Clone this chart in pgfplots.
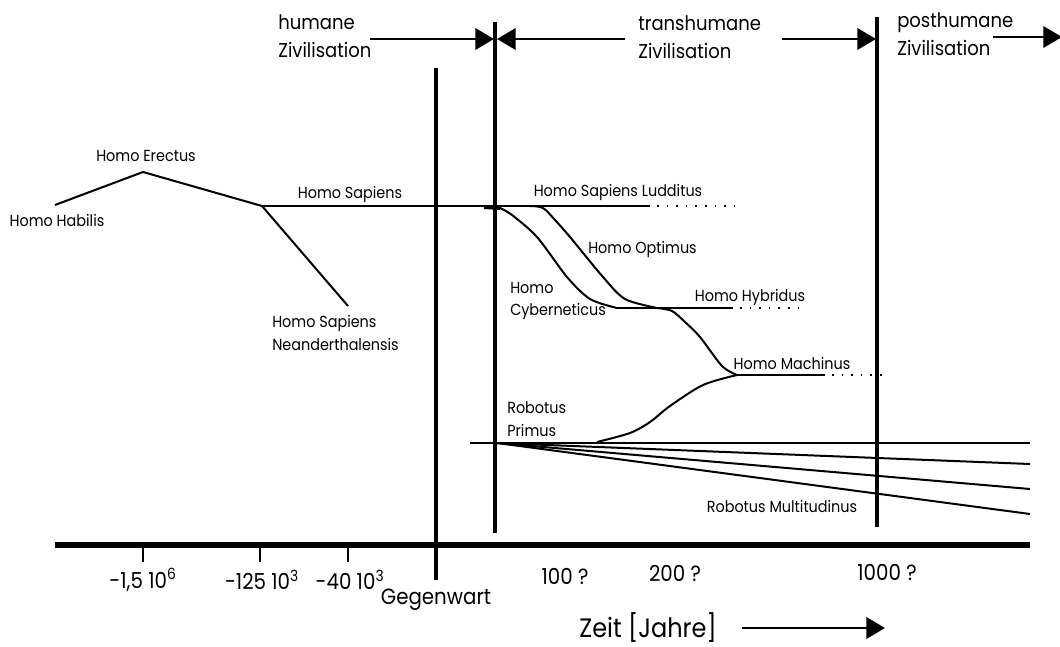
\documentclass[border=0pt]{standalone}
\usepackage{fontspec}
\setmainfont{Poppins}[FakeStretch=0.9]
\usepackage{pgfplots}
\pgfplotsset{compat=1.18}
\usetikzlibrary{arrows.meta}
\tikzset{
  lab/.style={font=\fontsize{12}{17}\selectfont, inner sep=0pt, align=left},
  big/.style={font=\fontsize{15}{21}\selectfont, inner sep=0pt, align=left},
  tk/.style={font=\fontsize{16.5}{18}\selectfont, inner sep=0pt},
  tip/.style={-{Triangle[length=14pt,width=16pt]}},
  dots/.style={dash pattern=on 1.2pt off 6pt},
}
\begin{document}
\begin{tikzpicture}
\begin{axis}[
  width=795pt, height=484.5pt, scale only axis,
  xmin=0, xmax=1060, ymin=0, ymax=646, y dir=reverse,
  hide axis, clip=false,
  cycle list={{black, solid}},
  every axis plot/.append style={no marks, black, line width=1.5pt},
]
% Zeitachse
\addplot[line width=3.8pt] coordinates {(55,545) (1030,545)};
\addplot coordinates {(143,547) (143,562)};
\addplot coordinates {(260,547) (260,562)};
\addplot coordinates {(348,547) (348,562)};
% senkrechte Trennlinien
\addplot[line width=3pt] coordinates {(436,68) (436,580)};
\addplot[line width=3pt] coordinates {(495,22) (495,533)};
\addplot[line width=3pt] coordinates {(877,17) (877,527)};
% Pfeile oben
\addplot[line width=2pt, tip] coordinates {(370,39) (494,39)};
\addplot[line width=2pt, tip] coordinates {(625,39) (497,39)};
\addplot[line width=2pt, tip] coordinates {(782,39) (876,39)};
\addplot[line width=2pt, tip] coordinates {(993,37) (1062,37)};
\addplot[line width=2pt, tip] coordinates {(742,628) (885,628)};
% Homo Habilis -> Erectus -> Sapiens
\addplot coordinates {(55,205) (143,172) (262,206)};
\addplot coordinates {(262,206) (650,206)};
\addplot[line width=3pt] coordinates {(484,207) (500,208)};
\addplot[dots] coordinates {(657,206) (737,206)};
\addplot coordinates {(262,206) (348,306)};
% Cyberneticus / Optimus
\addplot[smooth] coordinates {(500,208) (512,215) (537,237) (567,277) (590,299) (617,308)};
\addplot coordinates {(617,308) (733,308)};
\addplot[smooth] coordinates {(530,206) (543,208) (555,220) (570,237) (603,277) (625,299) (657,308)};
\addplot[dots] coordinates {(740,308) (800,308)};
% Machinus
\addplot[smooth] coordinates {(657,308) (672,311) (685,322) (700,337) (722,366) (737,375)};
\addplot coordinates {(737,375) (825,375)};
\addplot[dots] coordinates {(832,375) (885,375)};
% Robotus
\addplot[smooth] coordinates {(597,442) (630,433) (650,422) (670,406) (703,385) (737,375)};
\addplot coordinates {(470,443) (1030,443)};
\addplot coordinates {(497,443) (1030,464)};
\addplot coordinates {(497,443) (1030,489)};
\addplot coordinates {(497,443) (1030,514)};
% Beschriftungen
\node[lab] at (axis cs:57,220) {Homo Habilis};
\node[lab] at (axis cs:146,156) {Homo Erectus};
\node[lab] at (axis cs:350,194) {Homo Sapiens};
\node[lab, anchor=west] at (axis cs:272,333) {Homo Sapiens\\Neanderthalensis};
\node[lab] at (axis cs:618,192) {Homo Sapiens Ludditus};
\node[lab, anchor=west] at (axis cs:588,249) {Homo Optimus};
\node[lab, anchor=west] at (axis cs:510,301) {Homo\\Cyberneticus};
\node[lab] at (axis cs:750,297) {Homo Hybridus};
\node[lab] at (axis cs:792,363) {Homo Machinus};
\node[lab, anchor=west] at (axis cs:507,419) {Robotus\\Primus};
\node[lab] at (axis cs:782,506) {Robotus Multitudinus};
\node[tk] at (axis cs:143,580) {-1,5 10\textsuperscript{6}};
\node[tk] at (axis cs:262,580) {-125 10\textsuperscript{3}};
\node[tk] at (axis cs:350,580) {-40 10\textsuperscript{3}};
\node[tk] at (axis cs:436,600) {Gegenwart};
\node[tk] at (axis cs:565,576) {100 ?};
\node[tk] at (axis cs:675,573) {200 ?};
\node[tk] at (axis cs:887,572) {1000 ?};
\node[font=\fontsize{20}{24}\selectfont, inner sep=0pt] at (axis cs:648,628) {Zeit [Jahre]};
\node[big, anchor=west] at (axis cs:278,36) {humane\\Zivilisation};
\node[big, anchor=west] at (axis cs:638,37) {transhumane\\Zivilisation};
\node[big, anchor=west] at (axis cs:897,34) {posthumane\\Zivilisation};
\end{axis}
\pgfresetboundingbox
\path (current axis.south west) rectangle (current axis.north east);
\end{tikzpicture}
\end{document}
